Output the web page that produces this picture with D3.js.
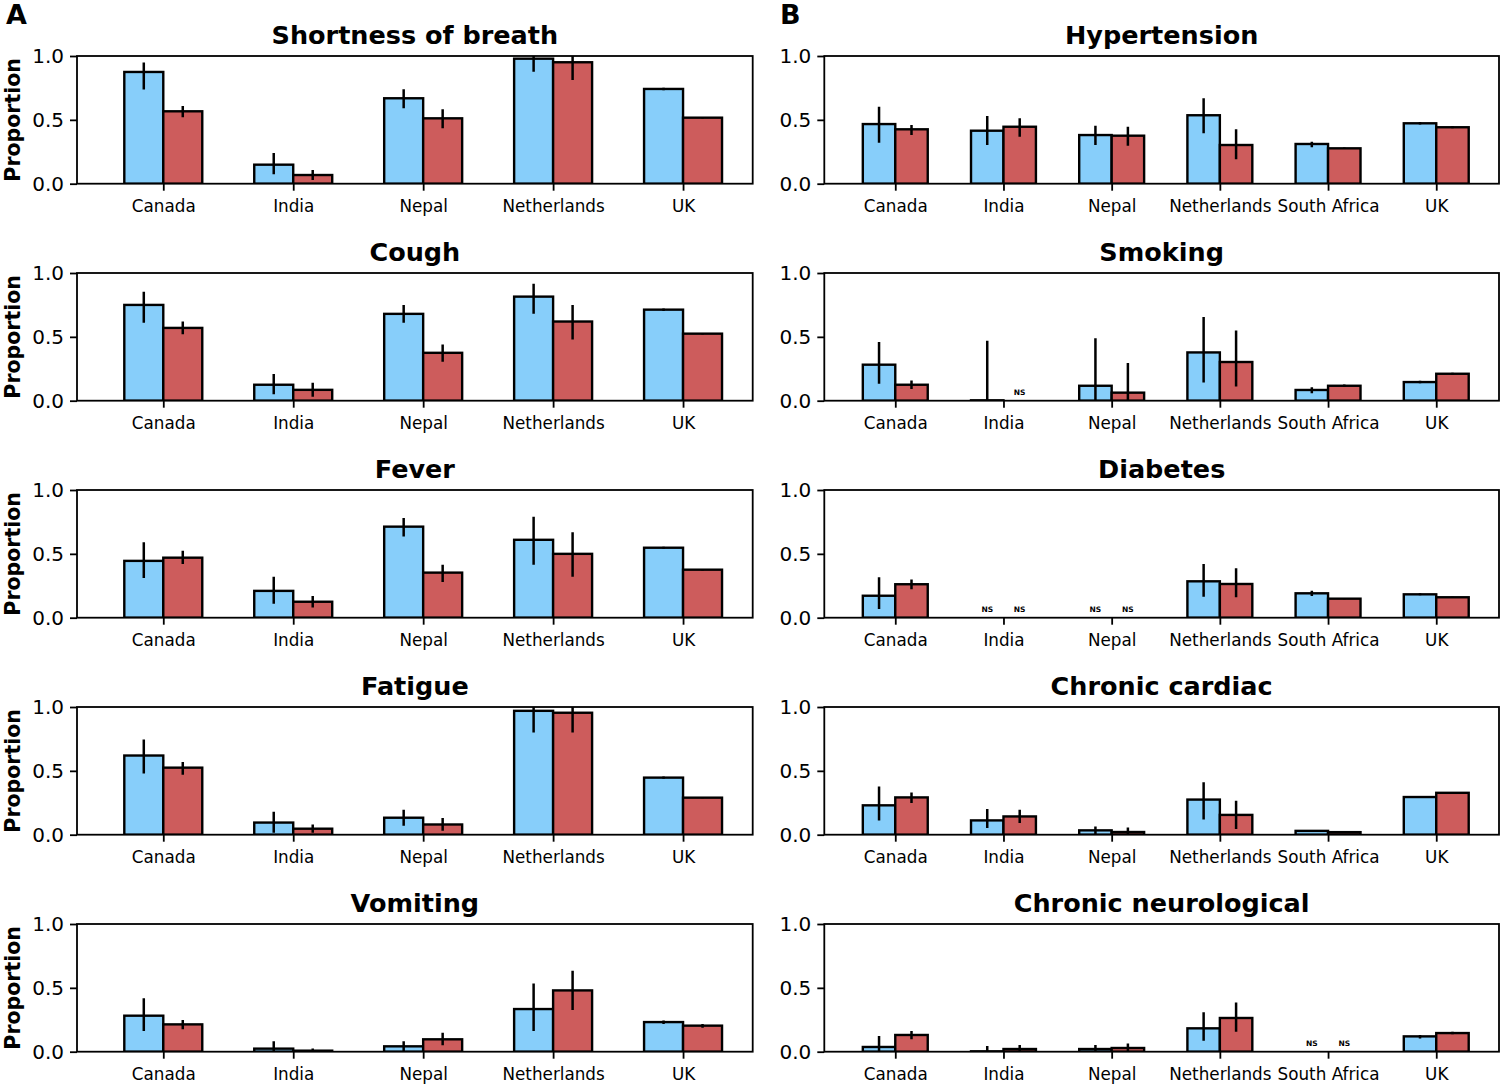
<!DOCTYPE html>
<html><head><meta charset="utf-8">
<script src="https://cdn.jsdelivr.net/npm/d3@7"></script>
<style>body{margin:0;background:#fff}</style>
</head><body><svg id="c" width="1500" height="1084"></svg>
<script>
// ---------- Data ----------
const leftCountries = ["Canada","India","Nepal","Netherlands","UK"];
const rightCountries = ["Canada","India","Nepal","Netherlands","South Africa","UK"];
const yTicks = [0, 0.5, 1.0];
const panelLetters = ["A","B"];

// Panel A: symptoms
const sobBlue = [0.875,0.149,0.669,0.979,0.742];
const sobBlueCI = [[0.738,0.95],[0.074,0.24],[0.59,0.739],[0.877,1.06],[0.732,0.752]];
const sobRed = [0.567,0.068,0.512,0.951,0.517];
const sobRedCI = [[0.52,0.608],[0.029,0.107],[0.434,0.583],[0.812,1.05],[0.511,0.523]];

const coughBlue = [0.75,0.125,0.68,0.815,0.713];
const coughBlueCI = [[0.61,0.853],[0.05,0.21],[0.61,0.75],[0.68,0.915],[0.703,0.722]];
const coughRed = [0.57,0.085,0.375,0.62,0.525];
const coughRedCI = [[0.52,0.62],[0.03,0.14],[0.305,0.44],[0.48,0.75],[0.519,0.531]];

const feverBlue = [0.445,0.21,0.713,0.61,0.548];
const feverBlueCI = [[0.31,0.59],[0.11,0.32],[0.635,0.78],[0.415,0.79],[0.54,0.556]];
const feverRed = [0.47,0.125,0.353,0.5,0.376];
const feverRedCI = [[0.42,0.525],[0.08,0.17],[0.28,0.415],[0.32,0.67],[0.37,0.382]];

const fatigueBlue = [0.62,0.095,0.133,0.97,0.447];
const fatigueBlueCI = [[0.48,0.745],[0.015,0.18],[0.07,0.195],[0.8,1.05],[0.439,0.455]];
const fatigueRed = [0.525,0.047,0.08,0.955,0.29];
const fatigueRedCI = [[0.47,0.57],[0.015,0.08],[0.03,0.13],[0.8,1.05],[0.285,0.295]];

const vomitBlue = [0.282,0.024,0.042,0.334,0.232];
const vomitBlueCI = [[0.162,0.418],[0,0.081],[0,0.081],[0.162,0.535],[0.217,0.245]];
const vomitRed = [0.214,0.008,0.097,0.48,0.204];
const vomitRedCI = [[0.175,0.248],[0,0.026],[0.05,0.149],[0.326,0.634],[0.188,0.217]];

// Panel B: comorbidities (null = NS)
const hyperBlue = [0.467,0.415,0.381,0.536,0.311,0.473];
const hyperBlueCI = [[0.321,0.603],[0.303,0.53],[0.303,0.454],[0.395,0.669],[0.285,0.329],[0.463,0.483]];
const hyperRed = [0.426,0.446,0.376,0.303,0.277,0.442];
const hyperRedCI = [[0.381,0.46],[0.368,0.512],[0.298,0.446],[0.191,0.426],[0.271,0.283],[0.435,0.449]];

const smokeBlue = [0.282,0.003,0.117,0.378,0.084,0.146];
const smokeBlueCI = [[0.133,0.46],[0,0.47],[0,0.49],[0.143,0.655],[0.058,0.105],[0.136,0.156]];
const smokeRed = [0.125,null,0.063,0.303,0.117,0.211];
const smokeRedCI = [[0.092,0.159],null,[0,0.295],[0.112,0.55],[0.107,0.127],[0.203,0.219]];

const diabBlue = [0.172,null,null,0.285,0.191,0.183];
const diabBlueCI = [[0.068,0.316],null,null,[0.164,0.42],[0.17,0.212],[0.175,0.191]];
const diabRed = [0.262,null,null,0.264,0.149,0.16];
const diabRedCI = [[0.222,0.3],null,null,[0.16,0.387],[0.145,0.153],[0.155,0.165]];

const cardBlue = [0.23,0.112,0.034,0.275,0.03,0.295];
const cardBlueCI = [[0.112,0.378],[0.052,0.201],[0,0.065],[0.12,0.41],[0.025,0.035],[0.287,0.303]];
const cardRed = [0.292,0.143,0.021,0.155,0.02,0.328];
const cardRedCI = [[0.248,0.331],[0.091,0.196],[0,0.057],[0.045,0.265],[0.016,0.024],[0.321,0.335]];

const neuroBlue = [0.037,0.003,0.021,0.183,null,0.12];
const neuroBlueCI = [[0,0.123],[0,0.044],[0,0.052],[0.086,0.308],null,[0.104,0.131]];
const neuroRed = [0.131,0.021,0.029,0.264,null,0.146];
const neuroRedCI = [[0.097,0.162],[0,0.052],[0,0.065],[0.157,0.386],null,[0.136,0.157]];

const panels = [
  {col:0,row:0,title:"Shortness of breath",cats:leftCountries,blue:sobBlue,blueCI:sobBlueCI,red:sobRed,redCI:sobRedCI},
  {col:0,row:1,title:"Cough",cats:leftCountries,blue:coughBlue,blueCI:coughBlueCI,red:coughRed,redCI:coughRedCI},
  {col:0,row:2,title:"Fever",cats:leftCountries,blue:feverBlue,blueCI:feverBlueCI,red:feverRed,redCI:feverRedCI},
  {col:0,row:3,title:"Fatigue",cats:leftCountries,blue:fatigueBlue,blueCI:fatigueBlueCI,red:fatigueRed,redCI:fatigueRedCI},
  {col:0,row:4,title:"Vomiting",cats:leftCountries,blue:vomitBlue,blueCI:vomitBlueCI,red:vomitRed,redCI:vomitRedCI},
  {col:1,row:0,title:"Hypertension",cats:rightCountries,blue:hyperBlue,blueCI:hyperBlueCI,red:hyperRed,redCI:hyperRedCI},
  {col:1,row:1,title:"Smoking",cats:rightCountries,blue:smokeBlue,blueCI:smokeBlueCI,red:smokeRed,redCI:smokeRedCI},
  {col:1,row:2,title:"Diabetes",cats:rightCountries,blue:diabBlue,blueCI:diabBlueCI,red:diabRed,redCI:diabRedCI},
  {col:1,row:3,title:"Chronic cardiac",cats:rightCountries,blue:cardBlue,blueCI:cardBlueCI,red:cardRed,redCI:cardRedCI},
  {col:1,row:4,title:"Chronic neurological",cats:rightCountries,blue:neuroBlue,blueCI:neuroBlueCI,red:neuroRed,redCI:neuroRedCI}
];

// ---------- Layout ----------
const BLUE = "#87CEFA", RED = "#CD5C5C";
const colX = [[77, 752.7],[824.3, 1499]];
const colDomain = [[-0.664, 4.536],[-0.656, 5.58]];
const rowTop0 = 56, rowStep = 217, plotH = 127.7;
const barW = 0.3;
const FONT = "DejaVu Sans, sans-serif";

const svg = d3.select("#c");
svg.append("rect").attr("width",1500).attr("height",1084).attr("fill","#fff");

// panel letters
svg.append("text").attr("x",6).attr("y",23.5).text(panelLetters[0])
  .attr("font-family",FONT).attr("font-weight","bold").attr("font-size",27);
svg.append("text").attr("x",780).attr("y",23.5).text(panelLetters[1])
  .attr("font-family",FONT).attr("font-weight","bold").attr("font-size",27);

panels.forEach((p, k) => {
  const top = rowTop0 + rowStep*p.row;
  const x = d3.scaleLinear().domain(colDomain[p.col]).range(colX[p.col]);
  const y = d3.scaleLinear().domain([0,1]).range([top+plotH, top]);
  const g = svg.append("g");
  const clipId = "clip"+k;
  g.append("clipPath").attr("id",clipId).append("rect")
    .attr("x",colX[p.col][0]).attr("y",top).attr("width",colX[p.col][1]-colX[p.col][0]).attr("height",plotH);
  const plot = g.append("g").attr("clip-path",`url(#${clipId})`);
  const idx = p.cats.map((_,i)=>i);

  const series = [
    {vals:p.blue, ci:p.blueCI, color:BLUE, off:-barW},
    {vals:p.red, ci:p.redCI, color:RED, off:0}
  ];
  series.forEach(s => {
    plot.selectAll(null).data(idx.filter(i=>s.vals[i]!==null)).enter().append("rect")
      .attr("x", i=>x(i+s.off))
      .attr("width", i=>x(i+s.off+barW)-x(i+s.off))
      .attr("y", i=>y(s.vals[i]))
      .attr("height", i=>y(0)-y(s.vals[i]))
      .attr("fill", s.color).attr("stroke","#000").attr("stroke-width",2.4);
  });
  series.forEach(s => {
    plot.selectAll(null).data(idx.filter(i=>s.ci[i]!==null)).enter().append("line")
      .attr("x1", i=>x(i+s.off+barW/2)).attr("x2", i=>x(i+s.off+barW/2))
      .attr("y1", i=>y(s.ci[i][0])).attr("y2", i=>y(s.ci[i][1]))
      .attr("stroke","#000").attr("stroke-width",2.5);
    // NS labels
    g.selectAll(null).data(idx.filter(i=>s.vals[i]===null)).enter().append("text")
      .attr("x", i=>x(i+s.off+barW/2)).attr("y", y(0)-6)
      .attr("text-anchor","middle").attr("font-family",FONT).attr("font-weight","bold")
      .attr("font-size",7.5).text("NS");
  });

  // frame
  g.append("rect").attr("x",colX[p.col][0]).attr("y",top)
    .attr("width",colX[p.col][1]-colX[p.col][0]).attr("height",plotH)
    .attr("fill","none").attr("stroke","#000").attr("stroke-width",1.8);

  // axes
  const ya = g.append("g").attr("transform",`translate(${colX[p.col][0]},0)`)
    .call(d3.axisLeft(y).tickValues(yTicks).tickFormat(d3.format(".1f")).tickSize(7).tickPadding(6));
  ya.select(".domain").remove();
  ya.selectAll("line").attr("stroke-width",1.8);
  ya.selectAll("text").attr("font-family",FONT).attr("font-size",20).attr("fill","#000");

  const xa = g.append("g").attr("transform",`translate(0,${top+plotH})`)
    .call(d3.axisBottom(x).tickValues(idx).tickFormat(i=>p.cats[i]).tickSize(7).tickPadding(9));
  xa.select(".domain").remove();
  xa.selectAll("line").attr("stroke-width",1.8);
  xa.selectAll("text").attr("font-family",FONT).attr("font-size",16.8).attr("fill","#000");

  // title
  g.append("text").attr("x",(colX[p.col][0]+colX[p.col][1])/2).attr("y",top-12.5)
    .attr("text-anchor","middle").attr("font-family",FONT).attr("font-weight","bold")
    .attr("font-size",25.5).text(p.title);

  // y label
  if (p.col===0) {
    g.append("text").attr("transform",`translate(19.5,${top+plotH/2}) rotate(-90)`)
      .attr("text-anchor","middle").attr("font-family",FONT).attr("font-weight","bold")
      .attr("font-size",20.5).text("Proportion");
  }
});
</script></body></html>
